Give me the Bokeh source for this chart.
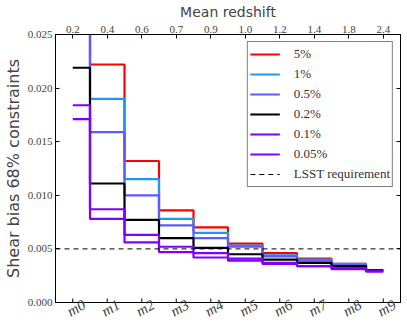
import math
from bokeh.plotting import figure
from bokeh.models import LinearAxis, FixedTicker, Range1d, Legend, LegendItem
from bokeh.embed import file_html
from bokeh.resources import INLINE

categories = ["m0", "m1", "m2", "m3", "m4", "m5", "m6", "m7", "m8", "m9"]
redshift_labels = ["0.2", "0.4", "0.6", "0.7", "0.9", "1.0", "1.2", "1.4", "1.8", "2.4"]

series_labels = ["5%", "1%", "0.5%", "0.2%", "0.1%", "0.05%"]
series_colors = ["#ff0000", "#2196f3", "#5b5bff", "#000000", "#7f00ff", "#8000ff"]

s_5 = [0.040, 0.0222, 0.0132, 0.0086, 0.0070, 0.0055, 0.0046, 0.0041, 0.0036, 0.0030]
s_1 = [0.035, 0.0190, 0.0115, 0.0078, 0.0065, 0.0053, 0.0044, 0.0040, 0.0036, 0.0030]
s_05 = [0.030, 0.0159, 0.0100, 0.0072, 0.0060, 0.0052, 0.0043, 0.0039, 0.0035, 0.0030]
s_02 = [0.0219, 0.0111, 0.0077, 0.0060, 0.0051, 0.0045, 0.0040, 0.0037, 0.0034, 0.0030]
s_01 = [0.0184, 0.0087, 0.0063, 0.0052, 0.0046, 0.0041, 0.0037, 0.0034, 0.0032, 0.0029]
s_005 = [0.0171, 0.0078, 0.0056, 0.0047, 0.0042, 0.0039, 0.0036, 0.0034, 0.0031, 0.0029]
series_values = [s_5, s_1, s_05, s_02, s_01, s_005]

requirement = 0.005
y_ticks = [0.000, 0.005, 0.010, 0.015, 0.020, 0.025]

xs = list(range(len(categories)))
x_lo, x_hi = -0.5, len(categories) - 0.5
label_shift = 0.33  # rotated labels centred under their ticks

SERIF = "Liberation Serif"
SANS = "DejaVu Sans"

p = figure(frame_width=345, frame_height=268, output_backend="svg", toolbar_location=None,
           x_range=Range1d(x_lo, x_hi), y_range=Range1d(0, 0.025),
           min_border_left=47, min_border_right=6, min_border_top=25, min_border_bottom=10,
           background_fill_color="white", border_fill_color="white")
p.extra_x_ranges = {"lab": Range1d(x_lo - label_shift, x_hi - label_shift)}
p.outline_line_color = "black"
p.outline_line_width = 1
p.xgrid.visible = False
p.ygrid.visible = False

# bottom axis: labels only (shifted range), ticks drawn below
xa = p.xaxis[0]
xa.x_range_name = "lab"
xa.ticker = FixedTicker(ticks=xs)
xa.major_label_overrides = {i: c for i, c in zip(xs, categories)}
xa.major_label_orientation = math.pi / 6
xa.major_label_text_font = SERIF
xa.major_label_text_font_style = "italic"
xa.major_label_text_font_size = "15px"
xa.major_tick_line_color = None
xa.major_tick_in = 0
xa.major_tick_out = 0
xa.minor_tick_line_color = None
xa.axis_line_color = "black"
xa.major_label_standoff = 1
xa.axis_label_standoff = 0

# left axis
ya = p.yaxis[0]
ya.ticker = FixedTicker(ticks=y_ticks)
ya.major_label_overrides = {t: f"{t:.3f}" for t in y_ticks}
ya.major_label_text_font = SERIF
ya.major_label_text_font_size = "11px"
ya.major_tick_in = 4
ya.major_tick_out = 0
ya.minor_tick_line_color = None
ya.axis_label = "Shear bias 68% constraints"
ya.axis_label_text_font = SANS
ya.axis_label_text_font_size = "16px"
ya.axis_label_text_font_style = "normal"
ya.axis_label_standoff = 2
ya.major_label_standoff = 3

# top axis
top = LinearAxis(ticker=FixedTicker(ticks=xs),
                 major_label_overrides={i: r for i, r in zip(xs, redshift_labels)},
                 axis_label="Mean redshift")
top.major_label_text_font = SERIF
top.major_label_text_font_size = "11px"
top.axis_label_text_font = SANS
top.axis_label_text_font_size = "14px"
top.axis_label_text_font_style = "normal"
top.axis_label_standoff = 3
top.major_label_standoff = 2
top.major_tick_in = 4
top.major_tick_out = 0
top.minor_tick_line_color = None
p.add_layout(top, "above")

# right axis (ticks only)
right = LinearAxis(ticker=FixedTicker(ticks=y_ticks),
                   major_label_overrides={t: "" for t in y_ticks})
right.major_label_text_color = None
right.major_label_standoff = 0
right.major_tick_in = 4
right.major_tick_out = 0
right.minor_tick_line_color = None
p.add_layout(right, "right")

# bottom inward tick marks at the category positions
tick_len = 0.025 * 4 / 268
p.segment(x0=xs, y0=[0] * len(xs), x1=xs, y1=[tick_len] * len(xs),
          line_color="black", line_width=1)

items = []
for lab, col, vals in zip(series_labels, series_colors, series_values):
    r = p.step(xs, vals, mode="center", line_color=col, line_width=2.2)
    items.append(LegendItem(label=lab, renderers=[r]))

req = p.line([x_lo, x_hi], [requirement, requirement], line_color="black",
             line_width=1, line_dash="5 4")
items.append(LegendItem(label="LSST requirement", renderers=[req]))

legend = Legend(items=items, location="top_right")
legend.label_text_font = SERIF
legend.label_text_font_size = "13px"
legend.label_text_color = "#333333"
legend.border_line_color = "black"
legend.border_line_width = 1
legend.background_fill_alpha = 1
legend.padding = 2
legend.spacing = 0
legend.glyph_height = 20
legend.label_height = 20
legend.glyph_width = 30
legend.label_standoff = 14
legend.margin = 7
p.add_layout(legend, "center")

open("out.html", "w").write(file_html(p, INLINE))
